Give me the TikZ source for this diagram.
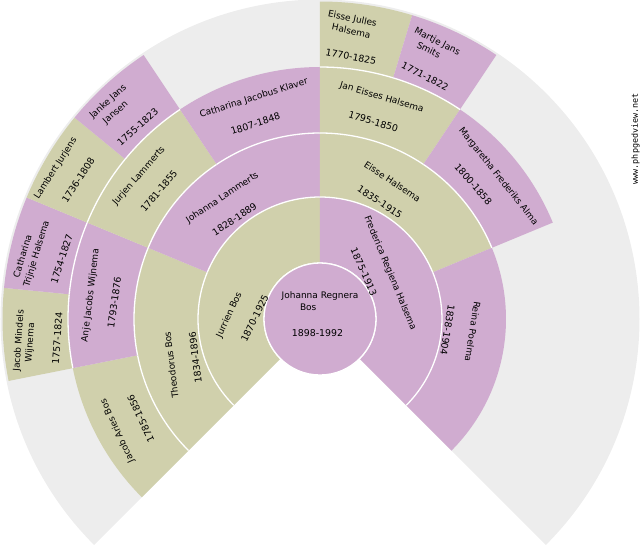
\documentclass[tikz,border=0pt]{standalone}
\usepackage{fontspec}
\setmainfont{DejaVu Sans}
\newfontfamily\wmfont{DejaVu Sans Mono}
\definecolor{fanF}{HTML}{D0ACD0}
\definecolor{fanM}{HTML}{D0D0AC}
\definecolor{fanbg}{HTML}{EDEDED}
\newcommand\fanseg[5]{%
  \fill[#1] (#2:#4) arc[start angle=#2,end angle=#3,radius=#4] -- (#3:#5) arc[start angle=#3,end angle=#2,radius=#5] -- cycle;
  \draw[sep] (#2:#4) arc[start angle=#2,end angle=#3,radius=#4];}
\begin{document}
\begin{tikzpicture}[x=1pt,y=1pt,
  lbl/.style={inner sep=0pt, font=\fontsize{9}{10}\selectfont},
  dte/.style={inner sep=0pt, font=\fontsize{9.4}{10}\selectfont},
  sep/.style={draw=white, line width=1.3pt}]
\useasboundingbox (-320,-231) rectangle (320,319);
% background fan
\fill[fanbg] (0,0) -- (225:319.5) arc[start angle=225,end angle=-45,radius=319.5] -- cycle;
% ring 1
\fanseg{fanM}{90}{225}{56}{122}
\fanseg{fanF}{-45}{90}{56}{122}
% centre
\fill[fanF] (0,0) circle[radius=56];
\draw[sep] (0,0) circle[radius=56];
% ring 2
\fanseg{fanM}{157.5}{225}{122}{186}
\fanseg{fanF}{90}{157.5}{122}{186}
\fanseg{fanM}{22.5}{90}{122}{186}
\fanseg{fanF}{-45}{22.5}{122}{186}
% ring 3
\fanseg{fanM}{191.25}{225}{186}{252}
\fanseg{fanF}{157.5}{191.25}{186}{252}
\fanseg{fanM}{123.75}{157.5}{186}{252}
\fanseg{fanF}{90}{123.75}{186}{252}
\fanseg{fanM}{56.25}{90}{186}{252}
\fanseg{fanF}{22.5}{56.25}{186}{252}
% ring 4
\fanseg{fanM}{174.375}{191.25}{252}{317.5}
\fanseg{fanF}{157.5}{174.375}{252}{317.5}
\fanseg{fanM}{140.625}{157.5}{252}{317.5}
\fanseg{fanF}{123.75}{140.625}{252}{317.5}
\fanseg{fanM}{73.125}{90}{252}{317.5}
\fanseg{fanF}{56.25}{73.125}{252}{317.5}
% centre text
\node[lbl] (c1) at (0,23) {Johanna Regnera};
\node[lbl] (c2) at (-11.8,11.7) {Bos};
\node[dte] (c3) at (-2.5,-14.3) {1898-1992};
% ring 1 text
\node[lbl,rotate=65] (a1) at (-90.7,4) {Jurrien Bos};
\node[dte,rotate=64] (a1d) at (-65.3,0.7) {1870-1925};
\node[lbl,rotate=-67.6] (a2) at (70,45.7) {Frederica Regiena Halsema};
\node[dte,rotate=-66] (a2d) at (43.8,47.3) {1875-1913};
% ring 2 text
\node[lbl,rotate=97] (b1) at (-148.8,-46) {Theodorus Bos};
\node[dte,rotate=97] (b1d) at (-124.7,-38.5) {1834-1896};
\node[lbl,rotate=33.7] (b2) at (-97.5,121.2) {Johanna Lammerts};
\node[dte,rotate=33.7] (b2d) at (-85.5,99.8) {1828-1889};
\node[lbl,rotate=-33.7] (b3) at (72.5,137.3) {Eisse Halsema};
\node[dte,rotate=-33.5] (b3d) at (60,117) {1835-1915};
\node[lbl,rotate=-98.8] (b4) at (152.8,-12.7) {Reina Poelma};
\node[dte,rotate=-99] (b4d) at (127.5,-11) {1838-1904};
% ring 3 text
\node[lbl,rotate=114.6] (g1) at (-202.5,-111.8) {Jacob Aries Bos};
\node[dte,rotate=115] (g1d) at (-179.2,-99.3) {1785-1856};
\node[lbl,rotate=83] (g2) at (-229.3,23.7) {Anje Jacobs Wijnema};
\node[dte,rotate=82] (g2d) at (-205.7,16.7) {1793-1876};
\node[lbl,rotate=48.7] (g3) at (-181,143) {Jurjen Lammerts};
\node[dte,rotate=50] (g3d) at (-161,128) {1781-1855};
\node[lbl,rotate=17.6] (g4) at (-66.2,220.7) {Catharina Jacobus Klaver};
\node[dte,rotate=18] (g4d) at (-64.5,195.3) {1807-1848};
\node[lbl,rotate=-16.4] (g5) at (61.7,221.5) {Jan Eisses Halsema};
\node[dte,rotate=-17] (g5d) at (53.3,197.3) {1795-1850};
\node[lbl,rotate=-51.6] (g6) at (178.3,142.3) {Margaretha Frederiks Alma};
\node[dte,rotate=-49] (g6d) at (153.3,134.8) {1800-1858};
% ring 4 text
\node[lbl,rotate=86] (h1) at (-301,-21.7) {Jacob Mindels};
\node[lbl,rotate=86] (h1b) at (-289.7,-23.7) {Wijnema};
\node[dte,rotate=86] (h1d) at (-262.7,-19.3) {1757-1824};
\node[lbl,rotate=73] (h2) at (-297.7,63) {Catharina};
\node[lbl,rotate=73] (h2b) at (-283.3,65) {Trijnje Halsema};
\node[dte,rotate=72] (h2d) at (-258.3,60) {1754-1827};
\node[lbl,rotate=57.4] (h3) at (-264.3,150.7) {Lambert Jurjens};
\node[dte,rotate=57] (h3d) at (-241.7,139) {1736-1808};
\node[lbl,rotate=42] (h4) at (-211.7,217.3) {Janke Jans};
\node[lbl,rotate=42] (h4b) at (-204.3,206.3) {Jansen};
\node[dte,rotate=42] (h4d) at (-182.3,192.3) {1755-1823};
\node[lbl,rotate=-12] (h5) at (32.3,299.8) {Eisse Julles};
\node[lbl,rotate=-12] (h5b) at (31.3,288.2) {Halsema};
\node[dte,rotate=-11] (h5d) at (31,262.3) {1770-1825};
\node[lbl,rotate=-27] (h6) at (117.2,277.3) {Martje Jans};
\node[lbl,rotate=-27] (h6b) at (108.8,269) {Smits};
\node[dte,rotate=-27.5] (h6d) at (105,242.7) {1771-1822};
% watermark
\node[inner sep=0pt,rotate=90,font=\fontsize{8.4}{9}\wmfont] (wm) at (315.7,180.2) {www.phpgedview.net};
\end{tikzpicture}
\end{document}
